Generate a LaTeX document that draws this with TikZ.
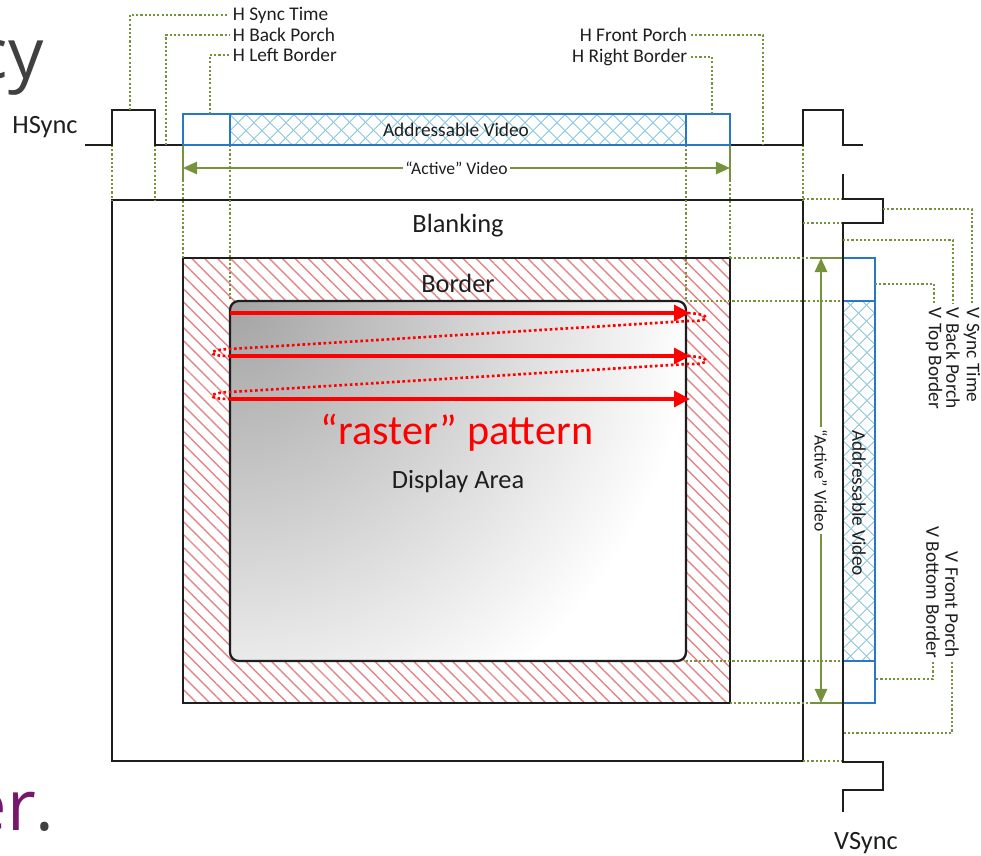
\documentclass[tikz,border=0pt]{standalone}
\usepackage{fontspec}
\setmainfont{Carlito}
\newfontfamily\slidefont{Open Sans}
\usetikzlibrary{arrows.meta,patterns.meta}
\definecolor{ink}{RGB}{30,30,30}
\definecolor{leafgreen}{RGB}{118,146,60}
\definecolor{vidblue}{RGB}{40,120,200}
\definecolor{hatchblue}{RGB}{150,205,225}
\definecolor{hatchred}{RGB}{226,135,135}
\definecolor{slidegray}{RGB}{64,64,64}
\definecolor{plum}{RGB}{118,22,108}
\tikzset{
  wave/.style={draw=ink,line width=1.2pt},
  vid/.style={draw=vidblue,line width=1.2pt},
  addr/.style={pattern={Lines[angle=45,distance=6.4pt,line width=0.65pt]},pattern color=hatchblue,
    postaction={pattern={Lines[angle=-45,distance=6.4pt,line width=0.65pt]},pattern color=hatchblue}},
  bord/.style={pattern={Lines[angle=-45,distance=5.2pt,line width=0.8pt]},pattern color=hatchred},
  guide/.style={draw=leafgreen,line width=1.2pt,dash pattern=on 1.2pt off 1.2pt},
  stub/.style={draw=leafgreen,line width=1.2pt},
  extent/.style={draw=leafgreen,line width=1.2pt,{Triangle[length=8pt,width=7pt]}-{Triangle[length=8pt,width=7pt]}},
  scan/.style={draw=red,line width=1.8pt,-{Triangle[length=9pt,width=9pt]}},
  retrace/.style={draw=red,line width=1.5pt,dash pattern=on 1.5pt off 1.5pt},
  lbl/.style={font=\fontsize{11}{13}\selectfont,text=ink,inner sep=2pt},
  big/.style={font=\fontsize{15}{18}\selectfont,text=ink},
  cut/.style={fill=white,inner sep=1.5pt,font=\fontsize{10}{12}\selectfont,text=ink},
  slide/.style={font=\slidefont\fontsize{40}{48}\selectfont,text=slidegray,inner sep=0pt},
}

\begin{document}
\begin{tikzpicture}[x=0.2mm,y=-0.2mm]
  \useasboundingbox (0,0) rectangle (981,855);
  % bits of the slide behind
  \node[slide,anchor=base east] (title) at (44,78) {cy};
  \node[slide,anchor=base east] (tail) at (55,830) {\textcolor{plum}{er}.};
  % frame areas
  \draw[wave] (112,200) rectangle (803,761);
  \path[bord] (183,258) rectangle (730,703);
  \draw[wave] (183,258) rectangle (730,703);
  \begin{scope}
    \clip[rounded corners=5pt] (230,301) rectangle (686,661);
    \fill[white] (230,301) rectangle (686,661);
    \shade[inner color=black!36,outer color=white] (230,301) circle[radius=465];
  \end{scope}
  \draw[draw=ink,line width=1.3pt,rounded corners=5pt] (230,301) rectangle (686,661);
  \node[big] (blank) at (458,226) {Blanking};
  \node[big] (bordr) at (458,283) {Border};
  \node[font=\fontsize{24}{28}\selectfont,text=red] (raster) at (457,433) {“raster” pattern};
  \node[big] (disp) at (458,481) {Display Area};
  % raster scan
  \foreach \y in {313,356,399} \draw[scan] (230,\y) -- (690,\y);
  \foreach \ya/\yb in {313/356,356/399}
    \draw[retrace] (688,\ya) .. controls (712,\ya+1) and (712,\ya+9) .. (688,\ya+8) -- (230,\yb-7)
      .. controls (206,\yb-6) and (206,\yb) .. (230,\yb);
  % guides
  \draw[guide] (112,145) -- (112,200) (155,145) -- (155,200) (183,180) -- (183,258)
    (230,145) -- (230,301) (686,145) -- (686,301) (730,180) -- (730,258) (803,145) -- (803,200);
  \draw[guide] (803,199) -- (843,199) (803,223) -- (843,223) (730,258) -- (810,258)
    (686,301) -- (843,301) (686,661) -- (843,661) (730,703) -- (810,703) (803,761) -- (843,761);
  \draw[stub] (183,145) -- (183,180) (730,145) -- (730,180) (810,258) -- (843,258) (810,703) -- (843,703);
  % horizontal sync
  \node[big] (hsync) at (45,127) {HSync};
  \draw[wave] (85,145) -- (112,145) -- (112,110) -- (155,110) -- (155,145) -- (803,145)
    -- (803,110) -- (843,110) -- (843,145) -- (863,145);
  \path[addr] (230,114) rectangle (686,145);
  \draw[vid] (183,114) rectangle (730,145) (230,114) -- (230,145) (686,114) -- (686,145);
  \node[lbl] (haddr) at (456,130) {Addressable Video};
  \draw[extent] (183,168) -- node[cut] (hact) {“Active” Video} (730,168);
  % vertical sync
  \path[addr] (843,301) rectangle (875,661);
  \draw[vid] (843,258) rectangle (875,703) (843,301) -- (875,301) (843,661) -- (875,661);
  \draw[wave] (843,174) -- (843,199) -- (883,199) -- (883,223) -- (843,223) -- (843,762)
    -- (883,762) -- (883,790) -- (843,790) -- (843,812);
  \node[lbl,rotate=-90] (vaddr) at (859,503) {Addressable Video};
  \draw[extent] (821,258) -- node[cut,rotate=-90] (vact) {“Active” Video} (821,703);
  \node[big] (vsync) at (866,843) {VSync};
  % labels
  \node[lbl,anchor=west] (hst) at (229,15) {H Sync Time};
  \node[lbl,anchor=west] (hbp) at (229,35) {H Back Porch};
  \node[lbl,anchor=west] (hlb) at (229,55) {H Left Border};
  \draw[guide] (130,110) |- (hst.west);
  \draw[guide] (166,145) |- (hbp.west);
  \draw[guide] (210,114) |- (hlb.west);
  \node[lbl,anchor=east] (hfp) at (691,35) {H Front Porch};
  \node[lbl,anchor=east] (hrb) at (691,57) {H Right Border};
  \draw[guide] (hfp.east) -| (763,145);
  \draw[guide] (hrb.east) -| (712,114);
  \node[lbl,rotate=-90,anchor=west] (vst) at (972,304) {V Sync Time};
  \node[lbl,rotate=-90,anchor=west] (vbp) at (953,304) {V Back Porch};
  \node[lbl,rotate=-90,anchor=west] (vtb) at (934,304) {V Top Border};
  \draw[guide] (883,209) -| (vst.west);
  \draw[guide] (843,240) -| (vbp.west);
  \draw[guide] (875,284) -| (vtb.west);
  \node[lbl,rotate=-90,anchor=east] (vfp) at (952,662) {V Front Porch};
  \node[lbl,rotate=-90,anchor=east] (vbb) at (933,662) {V Bottom Border};
  \draw[guide] (vfp.east) |- (843,733);
  \draw[guide] (vbb.east) |- (875,679);
\end{tikzpicture}
\end{document}
